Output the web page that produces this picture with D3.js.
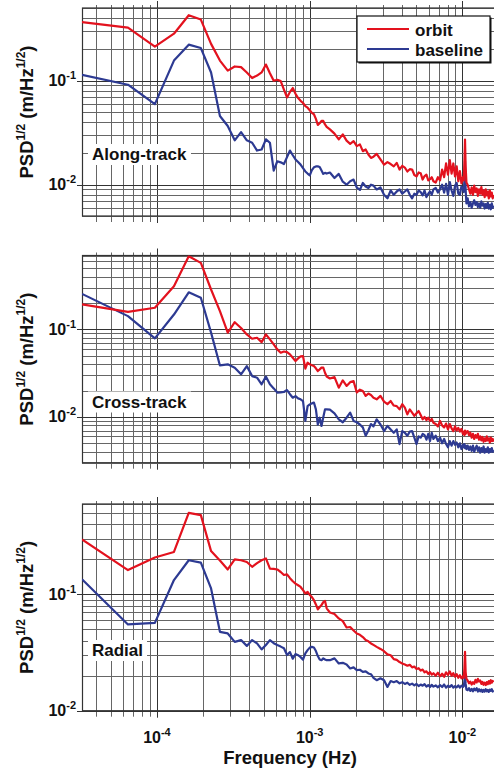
<!DOCTYPE html>
<html><head><meta charset="utf-8">
<script src="https://cdn.jsdelivr.net/npm/d3@7"></script>
<style>body{margin:0;background:#fff} svg{display:block}</style>
</head><body>
<svg id="c" width="494" height="771"></svg>
<script>
// FFT bin numbers (frequency = bin * binWidth)
const binWidth = 3.23e-5; // Hz
const binIndex = [
 1,2,3,4,5,6,7,8,9,10,11,12,13,14,15,16,17,18,19,20,21,22,23,24,25,26,27,28,29,30,31,32,33,34,35,36,37,38,39,40,
 42,45,48,51,54,57,60,63,66,69,72,75,78,81,
 85,90,95,100,105,110,115,120,125,130,135,140,145,150,155,160,165,170,175,180,185,190,195,200,
 207,214,221,228,235,242,249,256,263,270,277,284,291,298,305,312,
 316,319,322,325,329,
 335,342,349,356,363,370,377,384,391,398,405,412,419,426,433,440,447,454,461,468,475,482,489,494];

const alongOrbit = [
 0.366,0.324,0.213,0.283,0.426,0.387,0.226,0.156,0.125,0.137,0.135,0.120,0.106,0.112,0.120,0.143,0.118,0.100,0.102,0.099,
 0.082,0.069,0.078,0.085,0.075,0.068,0.064,0.061,0.057,0.055,0.052,0.049,0.0476,0.043,0.0375,0.039,0.041,0.041,0.038,0.036,
 0.034,0.031,0.0273,0.0305,0.0265,0.0247,0.0262,0.0235,0.0244,0.021,0.0218,0.0195,0.0181,0.0186,
 0.0198,0.0175,0.0156,0.0165,0.0158,0.0150,0.0162,0.0140,0.0152,0.0146,0.0134,0.0141,0.0140,0.0124,0.0120,0.0131,0.0129,0.0112,0.0121,0.0125,0.0110,0.0113,0.0118,0.0108,
 0.0105,0.0118,0.0110,0.0140,0.0118,0.0160,0.0125,0.0172,0.0128,0.0160,0.0120,0.0150,0.0108,0.0135,0.0103,0.0118,
 0.0110,0.0160,0.0272,0.0150,0.0105,
 0.0100,0.0090,0.0082,0.0094,0.0080,0.0098,0.0085,0.0092,0.0078,0.0090,0.0082,0.0095,0.0080,0.0088,0.0076,0.0090,0.0079,0.0086,0.0074,0.0088,0.0077,0.0084,0.0074,0.0080];
const alongBaseline = [
 0.114,0.0915,0.0595,0.156,0.222,0.206,0.120,0.0458,0.0367,0.0267,0.032,0.0267,0.0253,0.0213,0.0218,0.0273,0.0253,0.01366,0.0168,0.0164,
 0.0158,0.0184,0.0213,0.0192,0.0175,0.0165,0.0156,0.0144,0.0134,0.0128,0.0123,0.0138,0.0147,0.0150,0.0150,0.0148,0.0137,0.0127,0.0130,0.0128,
 0.0131,0.0116,0.0127,0.0107,0.0100,0.0108,0.0112,0.0094,0.0089,0.0104,0.0096,0.0093,0.0100,0.0098,
 0.0090,0.0094,0.0080,0.0074,0.0088,0.0080,0.0086,0.0090,0.0082,0.0086,0.0090,0.0080,0.0074,0.0082,0.0080,0.0088,0.0085,0.0079,0.0088,0.0076,0.0082,0.0086,0.0080,0.0090,
 0.0093,0.0084,0.0090,0.0100,0.0084,0.0102,0.0080,0.0106,0.0088,0.0078,0.0098,0.0104,0.0082,0.0080,0.0096,0.0090,
 0.0085,0.0110,0.0168,0.0090,0.0066,
 0.0074,0.0062,0.0068,0.0060,0.0066,0.0071,0.0064,0.0068,0.0061,0.0066,0.0060,0.0069,0.0063,0.0066,0.0059,0.0065,0.0060,0.0067,0.0059,0.0064,0.0058,0.0066,0.0060,0.0063];

const crossOrbit = [
 0.193,0.159,0.177,0.312,0.686,0.576,0.286,0.162,0.0917,0.121,0.104,0.0877,0.0783,0.0804,0.0716,0.0877,0.0769,0.0675,0.0592,0.0542,
 0.056,0.0551,0.0519,0.0475,0.0435,0.0467,0.0493,0.0496,0.0357,0.0417,0.040,0.039,0.0382,0.036,0.0335,0.035,0.0366,0.0366,0.032,0.029,
 0.0275,0.0285,0.0216,0.0262,0.0226,0.0250,0.0257,0.0190,0.0205,0.0198,0.0174,0.0185,0.0178,0.0166,
 0.0159,0.0174,0.0150,0.0140,0.0152,0.0135,0.0133,0.0122,0.0140,0.0128,0.0107,0.0122,0.0112,0.0103,0.0110,0.0117,0.0105,0.0094,0.0100,0.0092,0.0098,0.0090,0.0095,0.0086,
 0.0083,0.0078,0.0090,0.0080,0.0076,0.0084,0.0072,0.0083,0.0074,0.0069,0.0078,0.0070,0.0075,0.0068,0.0073,0.0064,
 0.0068,0.0062,0.0070,0.0064,0.0067,
 0.0069,0.0062,0.0066,0.0058,0.0064,0.0056,0.0062,0.0058,0.0064,0.0055,0.0060,0.0054,0.0059,0.0052,0.0057,0.0053,0.0060,0.0054,0.0057,0.0051,0.0058,0.0053,0.0056,0.0052];
const crossBaseline = [
 0.255,0.142,0.079,0.148,0.266,0.230,0.092,0.0388,0.0399,0.0366,0.0307,0.0381,0.0293,0.0281,0.0236,0.0289,0.0236,0.0212,0.0190,0.0191,
 0.0193,0.0203,0.0182,0.0166,0.0173,0.0163,0.0159,0.0152,0.0090,0.0133,0.0139,0.0143,0.0146,0.0122,0.0082,0.0098,0.0079,0.0099,0.0122,0.0122,
 0.0121,0.0110,0.0094,0.0087,0.0098,0.0112,0.0090,0.0087,0.0082,0.0076,0.0061,0.0070,0.0083,0.0078,
 0.0094,0.0082,0.0069,0.0079,0.0072,0.0066,0.0072,0.0049,0.0069,0.0066,0.0061,0.0068,0.0069,0.0058,0.0049,0.0060,0.0058,0.0064,0.0062,0.0055,0.0064,0.0053,0.0066,0.0056,
 0.0061,0.0053,0.0058,0.0050,0.0056,0.0049,0.0045,0.0053,0.0047,0.0053,0.0048,0.0051,0.0045,0.0050,0.0043,0.0048,
 0.0045,0.0049,0.0044,0.0047,0.0043,
 0.0047,0.0042,0.0046,0.0041,0.0047,0.0040,0.0044,0.0047,0.0041,0.0045,0.0039,0.0044,0.0040,0.0046,0.0039,0.0043,0.0040,0.0045,0.0039,0.0043,0.0040,0.0044,0.0040,0.0042];

const radialOrbit = [
 0.297,0.162,0.208,0.232,0.503,0.481,0.236,0.196,0.164,0.200,0.197,0.190,0.173,0.186,0.197,0.204,0.167,0.166,0.164,0.156,
 0.147,0.149,0.138,0.130,0.124,0.120,0.116,0.109,0.102,0.105,0.099,0.095,0.0893,0.082,0.0743,0.078,0.081,0.086,0.088,0.076,
 0.0700,0.0680,0.0622,0.0590,0.0520,0.0525,0.0490,0.0462,0.0450,0.0430,0.0405,0.0395,0.0379,0.0368,
 0.0354,0.0340,0.0325,0.0305,0.0300,0.0278,0.0274,0.0262,0.0255,0.0250,0.0244,0.0248,0.0236,0.0240,0.0228,0.0232,0.0221,0.0226,0.0214,0.0218,0.0207,0.0215,0.0204,0.0210,
 0.0200,0.0212,0.0198,0.0208,0.0196,0.0214,0.0203,0.0218,0.0200,0.0210,0.0196,0.0206,0.0192,0.0202,0.0190,0.0198,
 0.0192,0.0230,0.0321,0.0215,0.0188,
 0.0182,0.0172,0.0178,0.0168,0.0176,0.0170,0.0184,0.0175,0.0188,0.0178,0.0182,0.0170,0.0177,0.0167,0.0174,0.0166,0.0176,0.0169,0.0180,0.0171,0.0183,0.0174,0.0180,0.0176];
const radialBaseline = [
 0.135,0.0552,0.057,0.133,0.197,0.188,0.1126,0.0477,0.0462,0.0391,0.0405,0.0361,0.0405,0.0379,0.0337,0.0367,0.0405,0.0381,0.0367,0.0356,
 0.0344,0.0301,0.0319,0.0280,0.0307,0.0300,0.0289,0.0275,0.0311,0.0332,0.0349,0.0354,0.0350,0.0326,0.0295,0.0276,0.0272,0.0282,0.0276,0.0272,
 0.0272,0.0282,0.0255,0.0258,0.0250,0.0231,0.0236,0.0223,0.0225,0.0216,0.0218,0.0209,0.0206,0.0192,
 0.0183,0.0190,0.0183,0.0160,0.0180,0.0176,0.0180,0.0172,0.0176,0.0170,0.0174,0.0167,0.0171,0.0165,0.0170,0.0163,0.0168,0.0164,0.0169,0.0161,0.0166,0.0160,0.0167,0.0161,
 0.0165,0.0159,0.0166,0.0160,0.0168,0.0158,0.0164,0.0160,0.0166,0.0158,0.0163,0.0159,0.0165,0.0158,0.0164,0.0160,
 0.0163,0.0180,0.0209,0.0170,0.0152,
 0.0150,0.0156,0.0148,0.0154,0.0147,0.0155,0.0150,0.0156,0.0146,0.0153,0.0147,0.0152,0.0145,0.0151,0.0146,0.0153,0.0147,0.0151,0.0145,0.0152,0.0148,0.0153,0.0146,0.0150];

const panelNames = ["Along-track", "Cross-track", "Radial"];
const seriesNames = ["orbit", "baseline"];
const seriesColors = ["#e3121e", "#2d3a92"];
const xTickExponents = ["-4", "-3", "-2"];
const yTickExponents = ["-1", "-2"];
const xTitle = "Frequency (Hz)";

const FONT = "'Liberation Sans', Arial, Helvetica, sans-serif";
const svg = d3.select("#c");
svg.append("rect").attr("width", 494).attr("height", 771).attr("fill", "#fff");

const x = d3.scaleLog().domain([binWidth, 1.61e-2]).range([82, 494]);
const freqs = binIndex.map(b => b * binWidth);

const panels = [
  {name: panelNames[0], data: [alongOrbit, alongBaseline], ydom: [0.005, 0.5], top: 8, bottom: 216},
  {name: panelNames[1], data: [crossOrbit, crossBaseline], ydom: [0.003, 0.7], top: 255.5, bottom: 462.7},
  {name: panelNames[2], data: [radialOrbit, radialBaseline], ydom: [0.01, 0.6], top: 504, bottom: 710.7}
];

function gridValues(dom) {
  const out = [];
  const lo = Math.floor(Math.log10(dom[0])), hi = Math.ceil(Math.log10(dom[1]));
  for (let d = lo; d <= hi; d++) for (let m = 1; m <= 9; m++) {
    const v = m * Math.pow(10, d);
    if (v >= dom[0] * 0.9999 && v <= dom[1] * 1.0001) out.push({v, major: m === 1});
  }
  return out;
}
const xGrid = gridValues(x.domain());

panels.forEach((p, pi) => {
  const y = d3.scaleLog().domain(p.ydom).range([p.bottom, p.top]);
  const g = svg.append("g");
  const [x0, x1] = x.range();

  // vertical grid
  g.selectAll(".vg").data(xGrid).join("line")
    .attr("x1", d => Math.round(x(d.v)) + 0.5).attr("x2", d => Math.round(x(d.v)) + 0.5)
    .attr("y1", d => p.top - (d.major ? 7 : 3)).attr("y2", d => p.bottom + (d.major ? 7 : 6))
    .attr("stroke", d => d.major ? "#333" : "#666").attr("stroke-width", 1);
  // horizontal grid
  const yGrid = gridValues(p.ydom);
  g.selectAll(".hg").data(yGrid).join("line")
    .attr("x1", d => d.major ? x0 - 5 : x0).attr("x2", x1)
    .attr("y1", d => Math.round(y(d.v)) + 0.5).attr("y2", d => Math.round(y(d.v)) + 0.5)
    .attr("stroke", d => d.major ? "#333" : "#666").attr("stroke-width", 1);
  // frame
  g.append("rect").attr("x", x0 + 0.5).attr("y", p.top).attr("width", x1 - x0 + 5).attr("height", p.bottom - p.top)
    .attr("fill", "none").attr("stroke", "#333").attr("stroke-width", 1.2);

  // panel label
  const lbl = g.append("text").attr("x", 92).attr("y", p.top + 152)
    .attr("font-family", FONT).attr("font-weight", "bold").attr("font-size", 17).attr("fill", "#111")
    .text(p.name);
  const bb = lbl.node().getBBox();
  g.insert("rect", "text").attr("x", bb.x - 4).attr("y", bb.y - 1).attr("width", bb.width + 8).attr("height", bb.height + 2).attr("fill", "#fff");

  // clip + lines
  const cid = "clip" + pi;
  svg.append("clipPath").attr("id", cid).append("rect")
    .attr("x", x0).attr("y", p.top).attr("width", x1 - x0).attr("height", p.bottom - p.top);
  const line = d3.line().x((d, i) => x(freqs[i])).y(d => y(d));
  [1, 0].forEach(si => {
    g.append("path").datum(p.data[si]).attr("d", line)
      .attr("fill", "none").attr("stroke", seriesColors[si]).attr("stroke-width", 2.2)
      .attr("stroke-linejoin", "round").attr("clip-path", `url(#${cid})`);
  });

  // y tick labels
  yTickExponents.forEach(e => {
    const v = Math.pow(10, +e);
    const t = g.append("text").attr("x", 76).attr("y", y(v) + 5.5).attr("text-anchor", "end")
      .attr("font-family", FONT).attr("font-weight", "bold").attr("font-size", 16).attr("fill", "#111");
    t.append("tspan").text("10");
    t.append("tspan").attr("font-size", 11).attr("dy", -7).text(e);
  });

  // y title
  const cy = (p.top + p.bottom) / 2;
  const yt = g.append("text").attr("transform", `translate(33,${cy}) rotate(-90)`).attr("text-anchor", "middle")
    .attr("font-family", FONT).attr("font-weight", "bold").attr("font-size", 18.5).attr("fill", "#111");
  yt.append("tspan").text("PSD");
  yt.append("tspan").attr("font-size", 12).attr("dy", -8).text("1/2");
  yt.append("tspan").attr("dy", 8).text(" (m/Hz");
  yt.append("tspan").attr("font-size", 12).attr("dy", -8).text("1/2");
  yt.append("tspan").attr("dy", 8).text(")");

  // x tick labels on bottom panel only
  if (pi === panels.length - 1) {
    xTickExponents.forEach(e => {
      const v = Math.pow(10, +e);
      const t = g.append("text").attr("x", x(v)).attr("y", p.bottom + 32).attr("text-anchor", "middle")
        .attr("font-family", FONT).attr("font-weight", "bold").attr("font-size", 16).attr("fill", "#111");
      t.append("tspan").text("10");
      t.append("tspan").attr("font-size", 11).attr("dy", -7).text(e);
    });
    svg.append("text").attr("x", 290).attr("y", 764).attr("text-anchor", "middle")
      .attr("font-family", FONT).attr("font-weight", "bold").attr("font-size", 18.5).attr("fill", "#111")
      .text(xTitle);
  }

  // legend in first panel
  if (pi === 0) {
    const lg = svg.append("g");
    lg.append("rect").attr("x", 358.5).attr("y", 17.5).attr("width", 133).attr("height", 46).attr("fill", "#111");
    lg.append("rect").attr("x", 357).attr("y", 16).attr("width", 133).attr("height", 46)
      .attr("fill", "#fff").attr("stroke", "#111").attr("stroke-width", 1.2);
    seriesNames.forEach((s, i) => {
      const ly = 29 + i * 20;
      lg.append("line").attr("x1", 367).attr("x2", 409).attr("y1", ly).attr("y2", ly)
        .attr("stroke", seriesColors[i]).attr("stroke-width", 2.2);
      lg.append("text").attr("x", 415).attr("y", ly + 6.5)
        .attr("font-family", FONT).attr("font-weight", "bold").attr("font-size", 17).attr("fill", "#111").text(s);
    });
  }
});
</script>
</body></html>
